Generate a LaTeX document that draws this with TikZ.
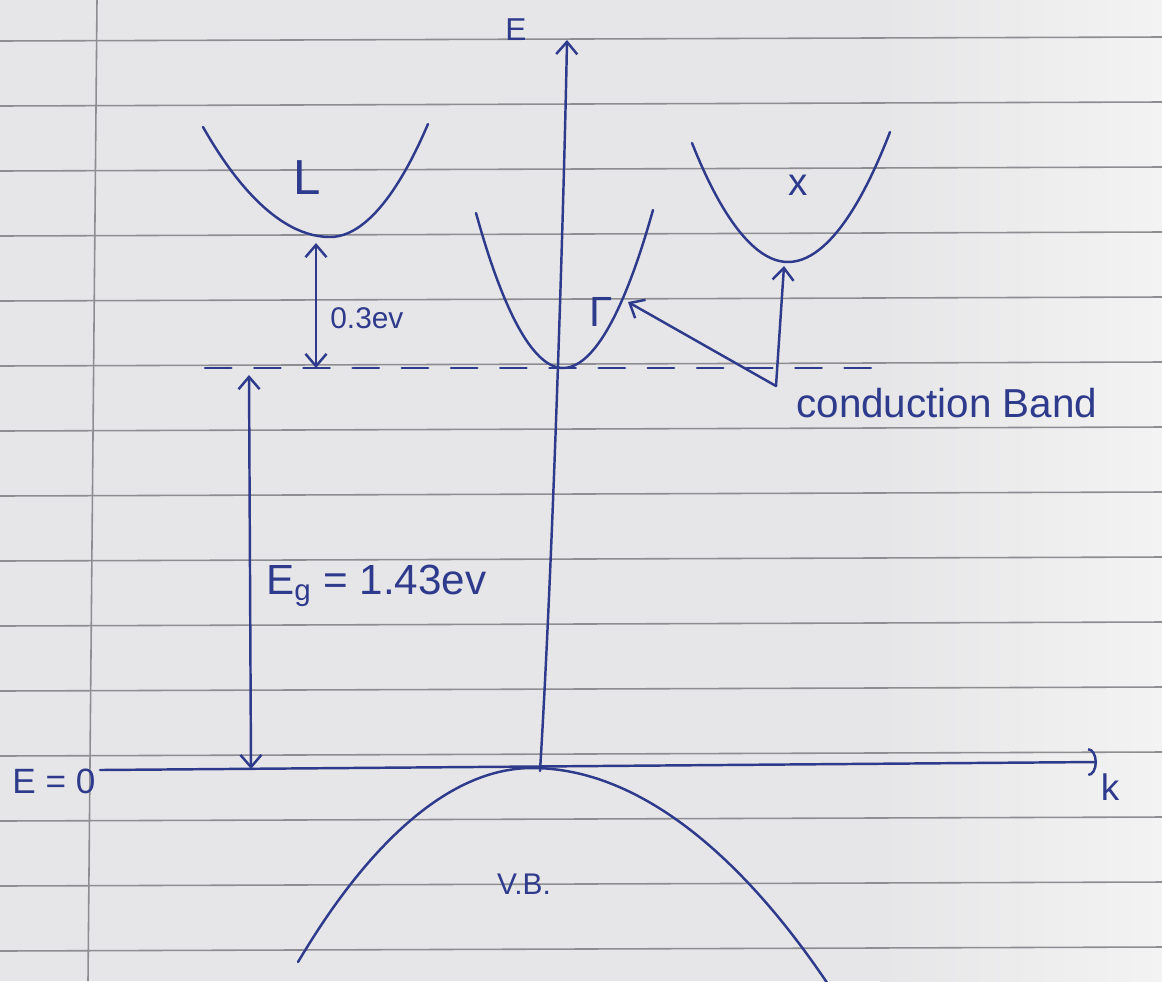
\documentclass[tikz,border=0pt]{standalone}
\usepackage{fontspec}
\setmainfont{Liberation Sans}
\usetikzlibrary{arrows.meta}
\definecolor{ink}{HTML}{2E3A8C}
\definecolor{paper}{HTML}{E6E6E8}
\definecolor{paperlight}{HTML}{F3F3F3}
\definecolor{rulecol}{HTML}{8E8E92}
\begin{document}
\begin{tikzpicture}[x=0.02cm,y=-0.02cm,
  inkline/.style={draw=ink, line width=1.4pt, line cap=round},
  lbl/.style={text=ink, inner sep=0pt},
  tip/.style={-{Straight Barb[length=7pt,width=12pt]}},
  twotip/.style={{Straight Barb[length=7pt,width=12pt]}-{Straight Barb[length=7pt,width=12pt]}},
  ruled/.style={draw=rulecol, line width=0.9pt}]
% paper
\fill[paper] (0,0) rectangle (1162,981);
\shade[left color=paper, right color=paperlight] (880,0) rectangle (1162,981);
\useasboundingbox (0,0) rectangle (1162,981);
\foreach \y in {41,106,...,981} \draw[ruled] (0,\y) -- (1162,\y-4);
\draw[ruled] (97,0) -- (88,981);

% axes
\coordinate (Ebot) at (540,771);
\coordinate (Emid) at (561,370);
\coordinate (Etop) at (567,40);
\coordinate (kL) at (100,770);
\coordinate (kR) at (1097,762);
\draw[inkline, tip] (Ebot) .. controls (553,560) and (564,200) .. (Etop);
\draw[inkline, -{Arc Barb[length=5pt,width=16pt]}] (kL) -- (kR);
\node[lbl, font=\fontsize{18}{20}\selectfont] (Elab) at (516,30) {E};
\node[lbl, font=\fontsize{21}{24}\selectfont] (klab) at (1110,787) {k};
\node[lbl, font=\fontsize{20}{24}\selectfont] (E0) at (54,781) {E = 0};

% conduction band edge (dashed)
\coordinate (dL) at (205,368);
\coordinate (dR) at (890,368);
\draw[inkline, dash pattern=on 15pt off 13pt] (dL) -- (dR);

% valleys
\coordinate (Lmin) at (330,237);
\coordinate (Gmin) at (563,368);
\coordinate (Xmin) at (788,262);
\draw[inkline] (203,127) parabola bend (Lmin) (428,124);
\draw[inkline] (476,213) parabola bend (Gmin) (653,210);
\draw[inkline] (692,143) parabola bend (Xmin) (890,132);
\node[lbl, font=\fontsize{28}{30}\selectfont] (Llab) at (307,178) {L};
\node[lbl, font=\fontsize{24}{28}\selectfont] (Glab) at (601,312) {Γ};
\node[lbl, font=\fontsize{22}{26}\selectfont] (Xlab) at (798,185) {x};

% 0.3 eV gap
\coordinate (a1) at (316,243);
\coordinate (a2) at (316,368);
\draw[inkline, twotip] (a1) -- (a2);
\node[lbl, font=\fontsize{17}{20}\selectfont, anchor=west] (g03) at (330,318) {0.3ev};

% band gap
\coordinate (b1) at (249,375);
\coordinate (b2) at (251,769);
\draw[inkline, twotip] (b1) -- (b2);
\node[lbl, font=\fontsize{24}{28}\selectfont, anchor=west] (Eg) at (266,586) {E\textsubscript{g} = 1.43ev};

% conduction band pointer
\coordinate (cb) at (776,386);
\coordinate (Ghit) at (628,302);
\coordinate (Xhit) at (784,266);
\draw[inkline, tip] (cb) -- (Ghit);
\draw[inkline, tip] (cb) -- (Xhit);
\node[lbl, font=\fontsize{23}{26}\selectfont, anchor=west] (cblab) at (796,403) {conduction Band};

% valence band
\coordinate (VBtop) at (532,768);
\draw[inkline] (298,962) parabola bend (VBtop) (832,990);
\node[lbl, font=\fontsize{17}{20}\selectfont] (vb) at (524,884) {V.B.};
\end{tikzpicture}
\end{document}
